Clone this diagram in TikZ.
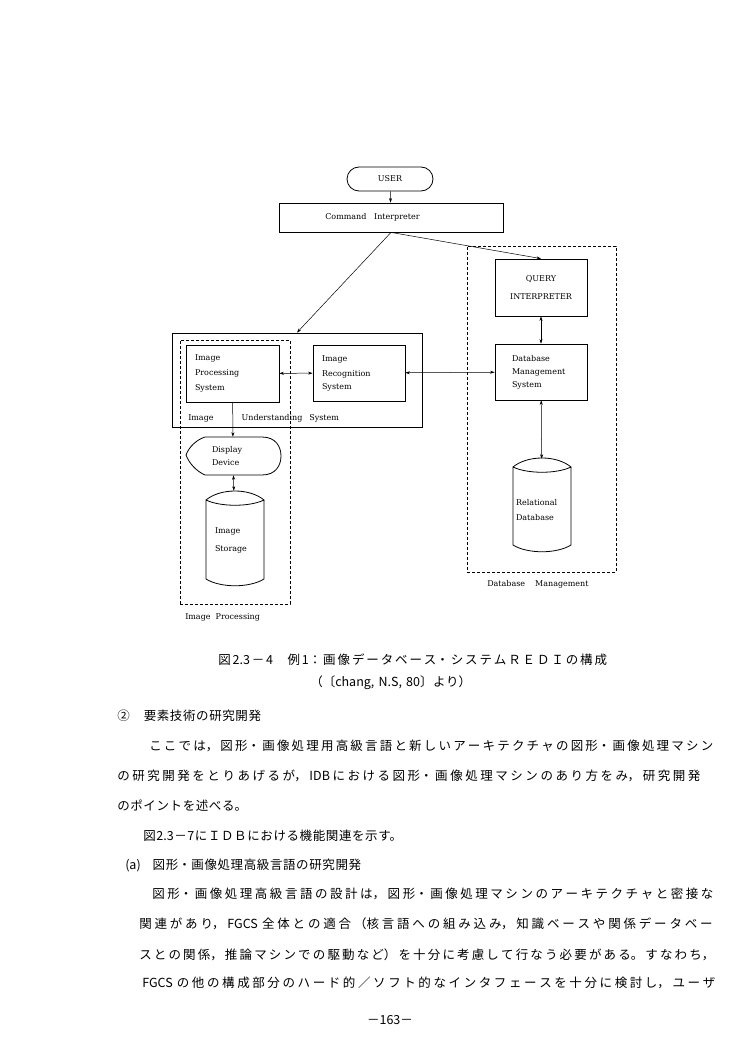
\documentclass[tikz,border=0pt]{standalone}
\usepackage{fontspec}
\newfontfamily\jpfont{Noto Sans CJK JP}
\newfontfamily\labelfamily{DejaVu Serif}
\usetikzlibrary{arrows.meta}
\newcommand\diafont{\labelfamily\fontsize{8}{10}\selectfont}
\newcommand\jptext{\jpfont\fontsize{12.5}{15}\selectfont\XeTeXlinebreaklocale "ja"\XeTeXlinebreakskip=0.6pt plus 10pt\relax}
\newcommand\drum[4]{\draw[line width=0.8pt] (#1,#3) .. controls ({#1+0.25*(#2-#1)},{#3-12}) and ({#2-0.25*(#2-#1)},{#3-12}) .. (#2,#3)
	.. controls ({#2-0.25*(#2-#1)},{#3+7}) and ({#1+0.25*(#2-#1)},{#3+7}) .. (#1,#3) -- (#1,#4)
	.. controls ({#1+0.25*(#2-#1)},{#4+9}) and ({#2-0.25*(#2-#1)},{#4+9}) .. (#2,#4) -- (#2,#3);}
\newcommand\fullline[1]{\parfillskip=0pt #1\par}

\begin{document}
\begin{tikzpicture}[x=1pt,y=-1pt,>={Stealth[length=4.5pt,width=3pt]},line width=0.5pt]
	\tikzstyle{every node}=[font=\diafont,inner sep=0pt]
	\tikzstyle{box}=[draw,line width=0.8pt]
	\tikzstyle{zone}=[draw,line width=0.6pt,dash pattern=on 3pt off 2pt]
	\tikzstyle{inbox}=[box,align=left,minimum width=92pt,minimum height=57pt]
	\tikzstyle{drumtext}=[align=left,minimum width=58pt]
	\tikzstyle{jline}=[anchor=west,font=\jptext]
	\useasboundingbox (0,0) rectangle (750,1054);
	
	\node[zone,minimum width=149pt,minimum height=326pt] (dbzone) at (541.5,409) {};
	\node[zone,minimum width=110pt,minimum height=264pt] (ipzone) at (235,472) {};
	\node[anchor=west] (dblabel) at (487,584) {Database\hspace{10pt}Management};
	\node[anchor=west] (iplabel) at (185,617) {Image\ \ Processing};
	
	\node[box,rounded corners=12pt,minimum width=86pt,minimum height=24pt] (user) at (390,179) {USER};
	\node[box,minimum width=224pt,minimum height=29pt] (cmd) at (391,217.5) {Command\ \ \ Interpreter\hspace*{37pt}};
	\node[inbox,align=center] (query) at (541,287.5) {QUERY\\[8pt]INTERPRETER};
	\node[inbox,text width=58pt,minimum height=56pt] (dbms) at (541,372) {Database\\[3pt]Management\\[3pt]System};
	
	\node[box,minimum width=250pt,minimum height=94pt] (ius) at (297,380) {};
	\node[anchor=west] (iuslabel) at (188,418) {Image\hspace{28pt}Understanding\hspace{7pt}System};
	\node[inbox,text width=75pt,minimum width=93pt] (ips) at (232.5,373.5) {Image\\[5pt]Processing\\[5pt]System};
	\node[inbox,text width=74pt,minimum height=56pt] (irs) at (359,373) {Image\\[5pt]Recognition\\[3pt]System};
	
	\node[align=left,text width=42pt,minimum width=94pt,minimum height=38pt] (disp) at (233,456) {Display\\[3pt]Device};
	\draw[line width=0.8pt] (205,437) -- (262,437) .. controls (276,437) and (281,447) .. (281,456)
		.. controls (281,465) and (276,475) .. (262,475) -- (205,475)
		.. controls (196,471) and (189,463) .. (186,455) .. controls (189,447) and (196,440) .. (205,437);
	\node[drumtext,text width=40pt,minimum height=99pt] (store) at (235,540.5) {Image\\[8pt]Storage};
	\drum{206}{264}{500}{579}
	\node[drumtext,text width=52pt,minimum height=102pt] (reldb) at (542,510) {Relational\\[5pt]Database};
	\drum{513}{571}{467}{545}
	
	\draw[->] (user) -- (cmd);
	\draw[->] (cmd.south) -- (ius.north);
	\draw[->] (cmd.south) -- (query.north);
	\draw[<->] (query) -- (dbms);
	\draw[<->] (ips) -- (irs);
	\draw[<->] (irs) -- (dbms);
	\draw[<->] (dbms) -- (reldb);
	\draw[->] (ips) -- (disp);
	\draw[<->] (disp) -- (store);
	
	\node[jline,text width=392pt] (cap1) at (218,660) {\fullline{図2.3－4　例1：画像データベース・システムＲＥＤＩの構成}};
	\node[jline,text width=300pt] (cap2) at (310,683) {（〔chang, N.S, 80〕より）};
	\node[jline,text width=400pt] (sec) at (117,716) {②\hspace{14pt}要素技術の研究開発};
	\node[jline,text width=568pt] (p1) at (149,746) {\fullline{ここでは，図形・画像処理用高級言語と新しいアーキテクチャの図形・画像処理マシン}};
	\node[jline,text width=588pt] (p2) at (117,776) {\fullline{の研究開発をとりあげるが，IDBにおける図形・画像処理マシンのあり方をみ，研究開発}};
	\node[jline,text width=400pt] (p3) at (117,806) {のポイントを述べる。};
	\node[jline,text width=400pt] (p4) at (143,836) {図2.3－7にＩＤＢにおける機能関連を示す。};
	\node[jline,text width=400pt] (sub) at (125,865) {(a)\hspace{12pt}図形・画像処理高級言語の研究開発};
	\node[jline,text width=566pt] (p5) at (152,894) {\fullline{図形・画像処理高級言語の設計は，図形・画像処理マシンのアーキテクチャと密接な}};
	\node[jline,text width=579pt] (p6) at (139,924) {\fullline{関連があり，FGCS 全体との適合（核言語への組み込み，知識ベースや関係データベー}};
	\node[jline,text width=579pt] (p7) at (139,955) {\fullline{スとの関係，推論マシンでの駆動など）を十分に考慮して行なう必要がある。すなわち，}};
	\node[jline,text width=578pt] (p8) at (142,983) {\fullline{FGCS の他の構成部分のハード的／ソフト的なインタフェースを十分に検討し，ユーザ}};
	\node[font=\jptext] (page) at (390,1020) {－163－};
\end{tikzpicture}
\end{document}
